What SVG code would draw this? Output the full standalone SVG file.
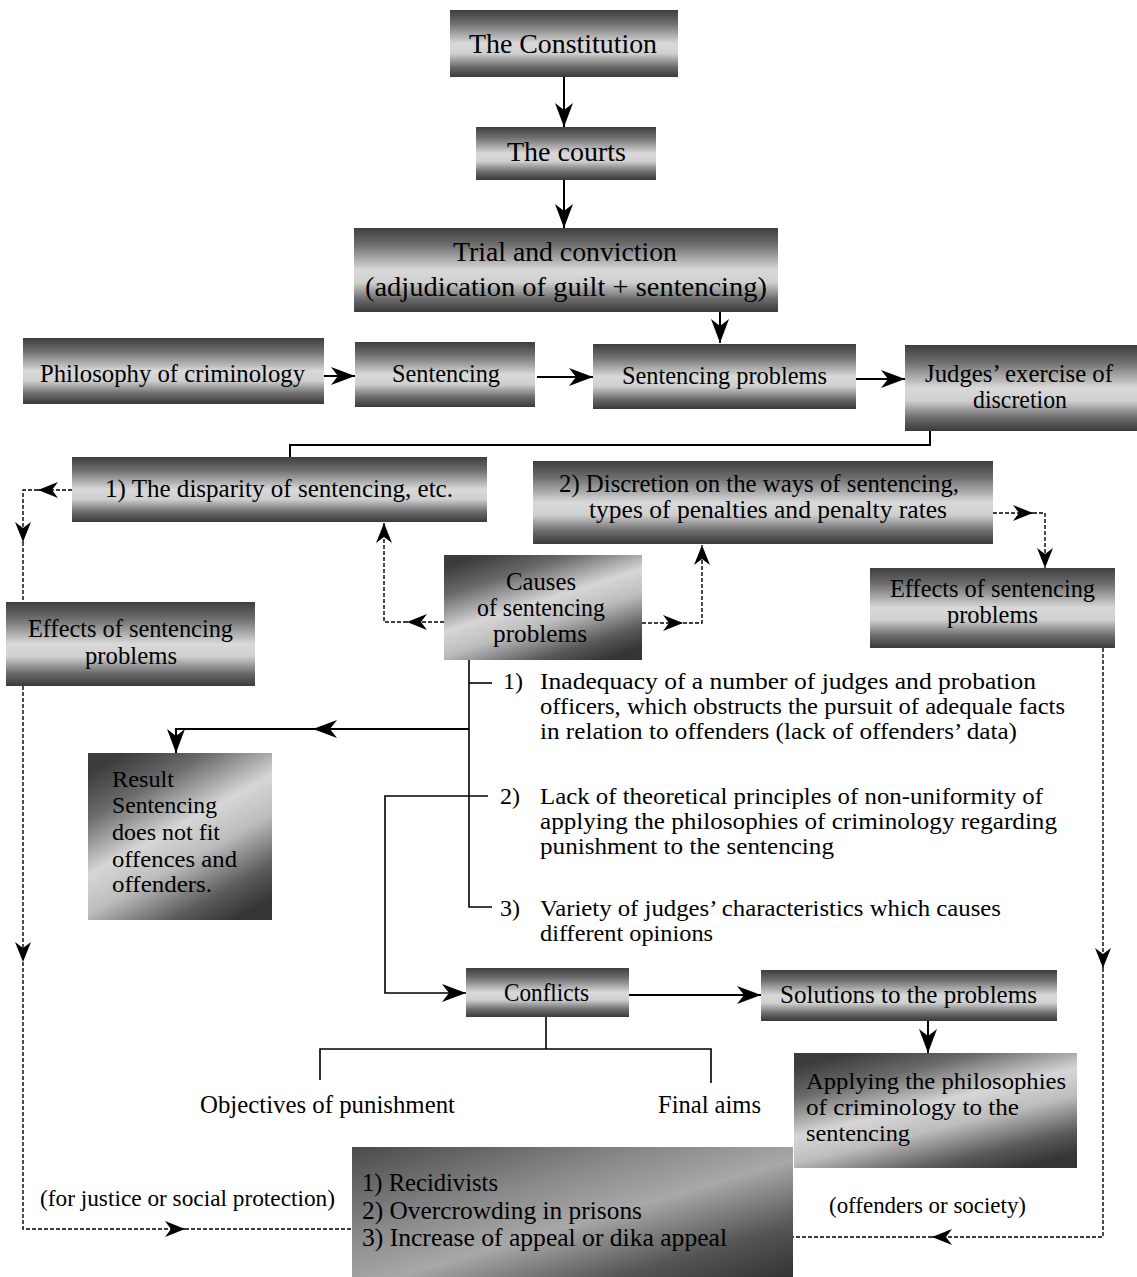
<svg xmlns="http://www.w3.org/2000/svg" width="1137" height="1277" viewBox="0 0 1137 1277">
<style>
text{font-family:"Liberation Serif","Times New Roman",serif;fill:#000;}
.t28{font-size:28px}
.t25{font-size:25px}
.t24{font-size:24px}
.t23{font-size:23px}
.box{fill:url(#gBand)}
.boxd{fill:url(#gDiag)}
.boxo{fill:url(#gOut)}
.solid{fill:none;stroke:#000;stroke-width:2}
.thin{fill:none;stroke:#000;stroke-width:1.6}
.dash{fill:none;stroke:#000;stroke-width:1.4;stroke-dasharray:4 2}
</style>
<defs>
<linearGradient id="gBand" x1="0" y1="0" x2="0" y2="1">
<stop offset="0" stop-color="#3e3e3e"/>
<stop offset="0.2" stop-color="#6e6e6e"/>
<stop offset="0.5" stop-color="#d9d9d9"/>
<stop offset="0.65" stop-color="#cfcfcf"/>
<stop offset="0.85" stop-color="#6a6a6a"/>
<stop offset="1" stop-color="#3a3a3a"/>
</linearGradient>
<linearGradient id="gDiag" x1="0.2" y1="0" x2="0.8" y2="1">
<stop offset="0" stop-color="#3c3c3c"/>
<stop offset="0.2" stop-color="#6a6a6a"/>
<stop offset="0.45" stop-color="#d6d6d6"/>
<stop offset="0.62" stop-color="#bdbdbd"/>
<stop offset="0.85" stop-color="#5a5a5a"/>
<stop offset="1" stop-color="#353535"/>
</linearGradient>
<linearGradient id="gOut" x1="0" y1="0" x2="1" y2="1">
<stop offset="0" stop-color="#4a4a4a"/>
<stop offset="0.35" stop-color="#8a8a8a"/>
<stop offset="0.55" stop-color="#a8a8a8"/>
<stop offset="0.8" stop-color="#555"/>
<stop offset="1" stop-color="#333"/>
</linearGradient>
<marker id="ah" viewBox="0 0 24 18" refX="24" refY="9" markerWidth="24" markerHeight="18" markerUnits="userSpaceOnUse" orient="auto">
<path d="M0,0 L24,9 L0,18 L7,9 Z" fill="#000"/>
</marker>
<marker id="ahs" viewBox="0 0 20 16" refX="20" refY="8" markerWidth="20" markerHeight="16" markerUnits="userSpaceOnUse" orient="auto">
<path d="M0,0 L20,8 L0,16 L6,8 Z" fill="#000"/>
</marker>
</defs>

<g id="connectors">
<!-- solid -->
<path class="solid" d="M564,77 V127" marker-end="url(#ah)"/>
<path class="solid" d="M564,180 V228" marker-end="url(#ah)"/>
<path class="solid" d="M720,312 V343" marker-end="url(#ah)"/>
<path class="solid" d="M324,376 H355" marker-end="url(#ah)"/>
<path class="solid" d="M537,377 H593" marker-end="url(#ah)"/>
<path class="solid" d="M856,379 H905" marker-end="url(#ah)"/>
<path class="solid" d="M930,431 V445 H290 V457"/>
<path class="thin" d="M469,660 V907 H492"/>
<path class="thin" d="M469,683 H492"/>
<path class="solid" d="M469,729 H313" marker-end="url(#ah)"/>
<path class="solid" d="M313,729 H176 V753" marker-end="url(#ah)"/>
<path class="thin" d="M488,796 H385 V993 H466" marker-end="url(#ah)"/>
<path class="solid" d="M629,995 H761" marker-end="url(#ah)"/>
<path class="solid" d="M928,1021 V1053" marker-end="url(#ah)"/>
<path class="thin" d="M546,1017 V1049"/>
<path class="thin" d="M320,1080 V1049 H711 V1083"/>
<!-- dashed -->
<path class="dash" d="M72,490 H38" marker-end="url(#ahs)"/>
<path class="dash" d="M38,490 H23 V542" marker-end="url(#ahs)"/>
<path class="dash" d="M23,542 V962" marker-end="url(#ahs)"/>
<path class="dash" d="M23,962 V1229 H185" marker-end="url(#ahs)"/>
<path class="dash" d="M185,1229 H352"/>
<path class="dash" d="M993,513 H1033" marker-end="url(#ahs)"/>
<path class="dash" d="M1033,513 H1045 V568" marker-end="url(#ahs)"/>
<path class="dash" d="M1103,648 V968" marker-end="url(#ahs)"/>
<path class="dash" d="M1103,968 V1237 H932" marker-end="url(#ahs)"/>
<path class="dash" d="M932,1237 H793"/>
<path class="dash" d="M444,622 H407" marker-end="url(#ahs)"/>
<path class="dash" d="M407,622 H384 V523" marker-end="url(#ahs)"/>
<path class="dash" d="M642,623 H683" marker-end="url(#ahs)"/>
<path class="dash" d="M683,623 H702 V545" marker-end="url(#ahs)"/>
</g>

<g id="n-constitution">
<rect class="box" x="450" y="10" width="228" height="67"/>
<text class="t28" x="469" y="53" textLength="188" lengthAdjust="spacingAndGlyphs">The Constitution</text>
</g>
<g id="n-courts">
<rect class="box" x="476" y="127" width="180" height="53"/>
<text class="t28" x="507" y="161" textLength="119" lengthAdjust="spacingAndGlyphs">The courts</text>
</g>
<g id="n-trial">
<rect class="box" x="354" y="228" width="424" height="84"/>
<text class="t28" x="453" y="261" textLength="224" lengthAdjust="spacingAndGlyphs">Trial and conviction</text>
<text class="t28" x="365" y="296" textLength="402" lengthAdjust="spacingAndGlyphs">(adjudication of guilt + sentencing)</text>
</g>
<g id="n-philosophy">
<rect class="box" x="23" y="338" width="301" height="66"/>
<text class="t25" x="40" y="382" textLength="265" lengthAdjust="spacingAndGlyphs">Philosophy of criminology</text>
</g>
<g id="n-sentencing">
<rect class="box" x="355" y="342" width="180" height="65"/>
<text class="t25" x="392" y="382" textLength="108" lengthAdjust="spacingAndGlyphs">Sentencing</text>
</g>
<g id="n-problems">
<rect class="box" x="593" y="344" width="263" height="65"/>
<text class="t25" x="622" y="384" textLength="205" lengthAdjust="spacingAndGlyphs">Sentencing problems</text>
</g>
<g id="n-judges">
<rect class="box" x="905" y="345" width="232" height="86"/>
<text class="t25" x="925" y="382" textLength="188" lengthAdjust="spacingAndGlyphs">Judges’ exercise of</text>
<text class="t25" x="973" y="408" textLength="94" lengthAdjust="spacingAndGlyphs">discretion</text>
</g>
<g id="n-disparity">
<rect class="box" x="72" y="457" width="415" height="65"/>
<text class="t25" x="105" y="497" textLength="348" lengthAdjust="spacingAndGlyphs">1) The disparity of sentencing, etc.</text>
</g>
<g id="n-discretion">
<rect class="box" x="533" y="461" width="460" height="83"/>
<text class="t25" x="559" y="492" textLength="400" lengthAdjust="spacingAndGlyphs">2) Discretion on the ways of sentencing,</text>
<text class="t25" x="589" y="518" textLength="358" lengthAdjust="spacingAndGlyphs">types of penalties and penalty rates</text>
</g>
<g id="n-effects-right">
<rect class="box" x="870" y="568" width="245" height="80"/>
<text class="t25" x="890" y="597" textLength="205" lengthAdjust="spacingAndGlyphs">Effects of sentencing</text>
<text class="t25" x="947" y="623" textLength="91" lengthAdjust="spacingAndGlyphs">problems</text>
</g>
<g id="n-causes">
<rect class="boxd" x="444" y="555" width="198" height="105"/>
<text class="t25" x="506" y="590" textLength="70" lengthAdjust="spacingAndGlyphs">Causes</text>
<text class="t25" x="477" y="616" textLength="128" lengthAdjust="spacingAndGlyphs">of sentencing</text>
<text class="t25" x="493" y="642" textLength="94" lengthAdjust="spacingAndGlyphs">problems</text>
</g>
<g id="n-effects-left">
<rect class="box" x="6" y="602" width="249" height="84"/>
<text class="t25" x="28" y="637" textLength="205" lengthAdjust="spacingAndGlyphs">Effects of sentencing</text>
<text class="t25" x="85" y="664" textLength="92" lengthAdjust="spacingAndGlyphs">problems</text>
</g>
<g id="n-cause-list">
<text class="t24" x="503" y="689">1)</text>
<text class="t24" x="540" y="689" textLength="496" lengthAdjust="spacingAndGlyphs">Inadequacy of a number of judges and probation</text>
<text class="t24" x="540" y="714" textLength="525" lengthAdjust="spacingAndGlyphs">officers, which obstructs the pursuit of adequale facts</text>
<text class="t24" x="540" y="739" textLength="477" lengthAdjust="spacingAndGlyphs">in relation to offenders (lack of offenders’ data)</text>
<text class="t24" x="500" y="804">2)</text>
<text class="t24" x="540" y="804" textLength="503" lengthAdjust="spacingAndGlyphs">Lack of theoretical principles of non-uniformity of</text>
<text class="t24" x="540" y="829" textLength="517" lengthAdjust="spacingAndGlyphs">applying the philosophies of criminology regarding</text>
<text class="t24" x="540" y="854" textLength="294" lengthAdjust="spacingAndGlyphs">punishment to the sentencing</text>
<text class="t24" x="500" y="916">3)</text>
<text class="t24" x="540" y="916" textLength="461" lengthAdjust="spacingAndGlyphs">Variety of judges’ characteristics which causes</text>
<text class="t24" x="540" y="941" textLength="173" lengthAdjust="spacingAndGlyphs">different opinions</text>
</g>
<g id="n-result">
<rect class="boxd" x="88" y="753" width="184" height="167"/>
<text class="t24" x="112" y="787" textLength="62" lengthAdjust="spacingAndGlyphs">Result</text>
<text class="t24" x="112" y="813" textLength="105" lengthAdjust="spacingAndGlyphs">Sentencing</text>
<text class="t24" x="112" y="840" textLength="108" lengthAdjust="spacingAndGlyphs">does not fit</text>
<text class="t24" x="112" y="867" textLength="125" lengthAdjust="spacingAndGlyphs">offences and</text>
<text class="t24" x="112" y="892" textLength="100" lengthAdjust="spacingAndGlyphs">offenders.</text>
</g>
<g id="n-conflicts">
<rect class="box" x="466" y="968" width="163" height="49"/>
<text class="t25" x="504" y="1001" textLength="85" lengthAdjust="spacingAndGlyphs">Conflicts</text>
</g>
<g id="n-solutions">
<rect class="box" x="761" y="970" width="296" height="51"/>
<text class="t25" x="780" y="1003" textLength="257" lengthAdjust="spacingAndGlyphs">Solutions to the problems</text>
</g>
<g id="n-applying">
<rect class="boxd" x="794" y="1053" width="283" height="115"/>
<text class="t24" x="806" y="1089" textLength="260" lengthAdjust="spacingAndGlyphs">Applying the philosophies</text>
<text class="t24" x="806" y="1115" textLength="213" lengthAdjust="spacingAndGlyphs">of criminology to the</text>
<text class="t24" x="806" y="1141" textLength="104" lengthAdjust="spacingAndGlyphs">sentencing</text>
</g>
<g id="n-objectives">
<text class="t25" x="200" y="1113" textLength="255" lengthAdjust="spacingAndGlyphs">Objectives of punishment</text>
</g>
<g id="n-final">
<text class="t25" x="658" y="1113" textLength="103" lengthAdjust="spacingAndGlyphs">Final aims</text>
</g>
<g id="n-outcomes">
<rect class="boxo" x="352" y="1147" width="441" height="130"/>
<text class="t25" x="362" y="1191" textLength="136" lengthAdjust="spacingAndGlyphs">1) Recidivists</text>
<text class="t25" x="362" y="1219" textLength="280" lengthAdjust="spacingAndGlyphs">2) Overcrowding in prisons</text>
<text class="t25" x="362" y="1246" textLength="365" lengthAdjust="spacingAndGlyphs">3) Increase of appeal or dika appeal</text>
</g>
<g id="n-label-left">
<text class="t24" x="40" y="1206" textLength="295" lengthAdjust="spacingAndGlyphs">(for justice or social protection)</text>
</g>
<g id="n-label-right">
<text class="t24" x="829" y="1213" textLength="197" lengthAdjust="spacingAndGlyphs">(offenders or society)</text>
</g>
</svg>
